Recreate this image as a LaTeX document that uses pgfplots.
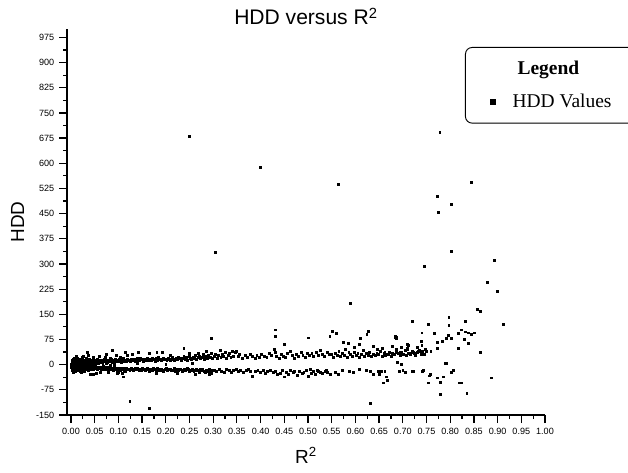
\documentclass[border=0pt]{standalone}
\usepackage{fontspec}
\setmainfont{Liberation Sans}
\newfontfamily\serifleg{Liberation Serif}
\usepackage{pgfplots}
\pgfplotsset{compat=1.18}

\begin{document}
\begin{tikzpicture}
\begin{axis}[
  at={(50.25pt,42.75pt)}, anchor=south west,
  scale only axis, width=358.5pt, height=289.5pt,
  axis lines=left,
  axis line style={-, line width=1pt},
  xmin=-0.0084, xmax=1.0, ymin=-150, ymax=1000,
  xtick={0,0.05,0.1,0.15,0.2,0.25,0.3,0.35,0.4,0.45,0.5,0.55,0.6,0.65,0.7,0.75,0.8,0.85,0.9,0.95,1},
  ytick={-150,-75,...,975},
  minor x tick num=1, minor y tick num=1,
  tick align=outside,
  major tick length=6pt, minor tick length=3pt,
  every tick/.style={black, line width=0.9pt},
  /pgf/number format/assume math mode=true,
  xticklabel style={font=\fontsize{6.8}{7}\selectfont, /pgf/number format/.cd, fixed, fixed zerofill, precision=2},
  yticklabel style={font=\fontsize{6.8}{7}\selectfont, /pgf/number format/.cd, fixed, precision=0},
  title={HDD versus R\textsuperscript{2}},
  every axis title/.style={font=\fontsize{15.8}{18}\selectfont, at={([yshift=3pt]axis description cs:0.5,1)}, anchor=base},
  xlabel={R\textsuperscript{2}},
  every axis x label/.style={font=\fontsize{14.2}{16}\selectfont, at={([yshift=-36pt]axis description cs:0.5,0)}, anchor=base},
  ylabel={HDD},
  every axis y label/.style={font=\fontsize{14.2}{16}\selectfont, at={([xshift=-37pt]axis description cs:0,0.5)}, rotate=90, anchor=center},
  legend style={at={(axis description cs:0.8326,0.9534)}, anchor=north west,
    draw=black, line width=0.7pt, rounded corners=5pt,
    font=\serifleg\fontsize{14.6}{17}\selectfont,
    inner xsep=12pt, inner ysep=8pt, row sep=9.5pt, column sep=11pt, cells={anchor=west}},
]
\addplot[only marks, mark=square*, mark size=0.72pt, black, forget plot] coordinates {
(0.001,2) (0.002,-5) (0.002,8) (0.003,-1) (0.003,12) (0.004,-9) (0.004,4) (0.005,-3) (0.005,15) (0.006,-12)
(0.006,6) (0.007,0) (0.007,-7) (0.008,10) (0.008,-4) (0.009,3) (0.009,-14) (0.010,7) (0.010,-2) (0.011,13)
(0.011,-8) (0.012,1) (0.012,-11) (0.013,9) (0.013,-5) (0.014,4) (0.014,-16) (0.015,11) (0.015,-1) (0.016,6)
(0.016,-9) (0.017,14) (0.017,-3) (0.018,2) (0.018,-12) (0.019,8) (0.019,-6) (0.020,17) (0.020,0) (0.021,-10)
(0.021,5) (0.022,-4) (0.022,10) (0.023,-13) (0.023,3) (0.024,-7) (0.024,12) (0.025,-1) (0.025,7) (0.026,-15)
(0.026,4) (0.027,-5) (0.027,9) (0.028,-9) (0.028,1) (0.029,14) (0.029,-3) (0.030,6) (0.030,-11) (0.031,10)
(0.031,-6) (0.032,2) (0.032,-14) (0.033,8) (0.033,-2) (0.034,13) (0.034,-8) (0.035,5) (0.035,-12) (0.036,11)
(0.036,-4) (0.037,3) (0.037,-10) (0.038,9) (0.038,-7) (0.039,16) (0.039,-1) (0.040,6) (0.040,-13)
(0.003,-18) (0.006,18) (0.010,-20) (0.014,20) (0.019,-19) (0.024,22) (0.028,-21) (0.033,19) (0.037,-18)
(0.035,38) (0.036,29) (0.012,25) (0.005,-24) (0.021,-22) (0.041,-30) (0.047,-28) (0.053,-27) (0.026,24)
(0.0015,-3) (0.0045,1) (0.0075,5) (0.0105,-6) (0.0135,-2) (0.0165,3) (0.0195,-5) (0.0225,1) (0.0255,-8)
(0.0285,6) (0.0315,-3) (0.0345,0) (0.0375,-5) (0.0005,-8) (0.0025,11) (0.0055,-10) (0.0085,9) (0.0115,-4)
(0.0145,7) (0.0175,-7) (0.0205,4) (0.0235,-9) (0.0265,8) (0.0295,-6) (0.0325,5) (0.0355,-9) (0.0385,2)
(0.041,9) (0.043,12) (0.045,7) (0.046,14) (0.048,10) (0.050,8) (0.051,13) (0.053,11) (0.055,6) (0.056,15)
(0.058,9) (0.060,12) (0.061,8) (0.063,14) (0.065,10) (0.066,7) (0.068,13) (0.070,11) (0.071,16) (0.073,9)
(0.075,12) (0.076,8) (0.078,14) (0.080,10) (0.081,13) (0.083,9) (0.085,15) (0.086,11) (0.088,8) (0.090,13)
(0.091,10) (0.093,16) (0.095,12) (0.096,9) (0.098,14) (0.100,11) (0.101,17) (0.103,10) (0.105,13) (0.106,8)
(0.108,15) (0.110,12) (0.111,18) (0.113,10) (0.115,14) (0.116,11) (0.118,16) (0.120,13)
(0.042,-8) (0.044,-11) (0.045,-6) (0.047,-13) (0.049,-9) (0.050,-5) (0.052,-12) (0.054,-8) (0.055,-14) (0.057,-10)
(0.059,-7) (0.060,-12) (0.062,-9) (0.064,-15) (0.065,-8) (0.067,-11) (0.069,-6) (0.070,-13) (0.072,-10) (0.074,-14)
(0.075,-9) (0.077,-12) (0.079,-8) (0.080,-15) (0.082,-11) (0.084,-9) (0.085,-13) (0.087,-10) (0.089,-16) (0.090,-12)
(0.092,-9) (0.094,-14) (0.095,-11) (0.097,-17) (0.099,-10) (0.100,-13) (0.102,-15) (0.104,-11) (0.105,-18) (0.107,-12)
(0.109,-14) (0.110,-10) (0.112,-16) (0.114,-13) (0.115,-19) (0.117,-12) (0.119,-15)
(0.044,2) (0.052,-2) (0.058,3) (0.067,0) (0.074,4) (0.083,-1) (0.092,2) (0.047,22) (0.059,25) (0.072,21)
(0.087,42) (0.095,27) (0.104,23) (0.114,36) (0.119,28) (0.062,-24) (0.078,-22) (0.097,-25) (0.108,-27) (0.110,-36)
(0.053,-27) (0.075,30) (0.083,20) (0.099,-22)
(0.122,14) (0.125,11) (0.128,17) (0.130,13) (0.133,15) (0.136,10) (0.139,18) (0.141,14) (0.144,12) (0.147,19)
(0.150,15) (0.152,11) (0.155,17) (0.158,14) (0.161,20) (0.163,12) (0.166,16) (0.169,13) (0.172,19) (0.174,15)
(0.177,11) (0.180,18) (0.183,14) (0.185,21) (0.188,16) (0.191,12) (0.194,19) (0.196,15) (0.199,17) (0.202,13)
(0.205,20) (0.207,16) (0.210,14) (0.213,22) (0.216,17) (0.218,12) (0.221,19) (0.224,15) (0.227,23) (0.229,18)
(0.232,14) (0.235,20) (0.238,26) (0.240,16) (0.243,21) (0.246,13) (0.249,24) (0.251,18) (0.254,15) (0.257,22)
(0.260,19) (0.262,27) (0.265,16) (0.268,21) (0.271,25) (0.273,18) (0.276,23) (0.279,30) (0.282,17) (0.284,24)
(0.287,20) (0.290,28) (0.293,22) (0.295,34) (0.298,19)
(0.121,-13) (0.124,-16) (0.127,-11) (0.129,-14) (0.132,-17) (0.135,-12) (0.138,-15) (0.140,-10) (0.143,-18) (0.146,-13)
(0.149,-16) (0.151,-11) (0.154,-14) (0.157,-17) (0.160,-12) (0.162,-15) (0.165,-19) (0.168,-13) (0.171,-16) (0.173,-11)
(0.176,-14) (0.179,-18) (0.182,-12) (0.184,-15) (0.187,-17) (0.190,-13) (0.193,-16) (0.195,-20) (0.198,-14) (0.201,-11)
(0.204,-17) (0.206,-15) (0.209,-13) (0.212,-18) (0.215,-16) (0.217,-12) (0.220,-19) (0.223,-14) (0.226,-17) (0.228,-15)
(0.231,-13) (0.234,-20) (0.237,-16) (0.239,-14) (0.242,-18) (0.245,-12) (0.248,-15) (0.250,-21) (0.253,-17) (0.256,-14)
(0.259,-19) (0.261,-16) (0.264,-13) (0.267,-18) (0.270,-22) (0.272,-15) (0.275,-17) (0.278,-14) (0.281,-20) (0.283,-24)
(0.286,-16) (0.289,-19) (0.292,-13) (0.294,-22) (0.297,-27) (0.299,-17)
(0.130,30) (0.142,38) (0.165,33) (0.181,36) (0.192,36) (0.210,28) (0.238,48) (0.250,34) (0.268,35) (0.180,-25)
(0.225,-26) (0.262,-28) (0.292,-30) (0.140,5) (0.200,2) (0.255,5) (0.285,40)
(0.302,24) (0.305,32) (0.308,18) (0.311,27) (0.314,42) (0.316,21) (0.319,30) (0.322,25) (0.325,36) (0.328,19)
(0.331,28) (0.334,33) (0.337,22) (0.340,40) (0.343,26) (0.346,36) (0.349,41) (0.352,24) (0.355,30) (0.362,20)
(0.368,27) (0.372,22) (0.378,31) (0.383,25) (0.388,19) (0.392,28) (0.397,23) (0.402,30) (0.408,26) (0.413,21)
(0.418,35) (0.423,28) (0.428,45) (0.430,38) (0.434,24) (0.439,19) (0.444,31) (0.448,26) (0.452,22) (0.456,34)
(0.462,40) (0.466,27) (0.471,20) (0.476,32) (0.480,25) (0.485,38) (0.489,29) (0.494,21) (0.499,35) (0.503,27)
(0.508,33) (0.512,24) (0.517,37) (0.521,29) (0.526,42) (0.530,31) (0.535,25) (0.540,36) (0.545,30)
(0.303,-16) (0.307,-21) (0.312,-14) (0.318,-19) (0.323,-24) (0.327,-15) (0.333,-18) (0.338,-22) (0.343,-17) (0.349,-13)
(0.353,-20) (0.358,-16) (0.364,-23) (0.369,-18) (0.374,-15) (0.379,-21) (0.383,-35) (0.388,-19) (0.394,-16) (0.399,-22)
(0.405,-18) (0.410,-25) (0.415,-20) (0.421,-17) (0.426,-23) (0.431,-19) (0.436,-30) (0.441,-26) (0.445,-18) (0.450,-36)
(0.454,-22) (0.459,-28) (0.463,-16) (0.468,-24) (0.472,-20) (0.477,-31) (0.482,-19) (0.487,-27) (0.491,-22) (0.496,-17)
(0.501,-34) (0.506,-25) (0.511,-21) (0.516,-29) (0.520,-18) (0.525,-23) (0.531,-27) (0.536,-20) (0.541,-24) (0.547,-30)
(0.430,104) (0.430,84) (0.449,60) (0.500,80) (0.295,78) (0.304,334) (0.124,-108) (0.165,-131)
(0.249,680) (0.399,588) (0.564,537) (0.778,692) (0.844,543) (0.772,501) (0.802,478) (0.774,453)
(0.550,30) (0.554,22) (0.557,35) (0.561,27) (0.565,40) (0.568,24) (0.572,33) (0.576,28) (0.579,45) (0.583,21)
(0.586,36) (0.590,30) (0.594,25) (0.597,38) (0.601,29) (0.605,34) (0.608,23) (0.612,31) (0.616,42) (0.619,26)
(0.623,33) (0.627,29) (0.630,37) (0.634,24) (0.638,32) (0.641,27) (0.645,35) (0.649,30) (0.652,40) (0.656,26)
(0.660,33) (0.663,28) (0.667,31) (0.671,36) (0.675,25) (0.678,34) (0.682,30) (0.686,45) (0.690,33) (0.694,28)
(0.697,38) (0.701,32) (0.705,42) (0.708,27) (0.712,35) (0.716,30) (0.720,40) (0.724,33) (0.727,28) (0.731,37)
(0.735,44) (0.739,31) (0.742,36) (0.746,30) (0.750,39)
(0.551,100) (0.559,93) (0.546,84) (0.610,78) (0.627,100) (0.624,90) (0.684,84) (0.684,80) (0.574,66) (0.584,65)
(0.597,51) (0.608,60) (0.637,54) (0.646,45) (0.709,60) (0.709,48) (0.730,51) (0.738,69) (0.740,95) (0.720,128)
(0.753,119) (0.766,93) (0.772,66) (0.772,48) (0.686,36) (0.589,182) (0.745,292) (0.802,337)
(0.504,-15) (0.521,-21) (0.538,-18) (0.557,-24) (0.563,-30) (0.572,-18) (0.587,-21) (0.595,-24) (0.608,-15) (0.622,-18)
(0.631,-21) (0.637,-30) (0.648,-21) (0.650,-30) (0.662,-21) (0.658,-54) (0.667,-48) (0.665,-36) (0.692,-21) (0.705,-24)
(0.688,6) (0.696,0) (0.722,-21) (0.741,-21) (0.743,-18) (0.755,-33) (0.753,-54) (0.772,-39) (0.780,-54) (0.785,-36)
(0.779,-89) (0.789,3) (0.806,-18) (0.802,-24) (0.819,-54) (0.823,-54) (0.835,-84) (0.886,-39) (0.631,-114)
(0.654,-21) (0.700,-18) (0.720,-21) (0.757,-30) (0.780,-51) (0.791,3) (0.667,-45)
(0.797,140) (0.797,116) (0.831,128) (0.857,164) (0.863,158) (0.911,119) (0.795,87) (0.791,78) (0.783,69) (0.802,78)
(0.817,93) (0.823,104) (0.831,98) (0.838,95) (0.844,90) (0.850,95) (0.829,75) (0.838,63) (0.817,48) (0.863,36)
(0.759,39) (0.738,69) (0.740,57) (0.747,45) (0.730,51) (0.732,39) (0.722,36) (0.738,36) (0.741,39) (0.711,57)
(0.709,45) (0.696,51) (0.694,36) (0.686,81) (0.686,78) (0.677,54) (0.662,36) (0.669,30) (0.656,48)
(0.878,245) (0.892,311) (0.900,218) (0.715,33)
};
\addlegendimage{empty legend}
\addlegendentry{\hspace*{3.75pt}\textbf{Legend}}
\addlegendimage{only marks, mark=square*, mark size=1.8pt, black}
\addlegendentry{HDD Values\hspace*{50pt}}
\end{axis}
\pgfresetboundingbox
\path[use as bounding box] (0,0) rectangle (471pt,354pt);
\end{tikzpicture}
\end{document}
